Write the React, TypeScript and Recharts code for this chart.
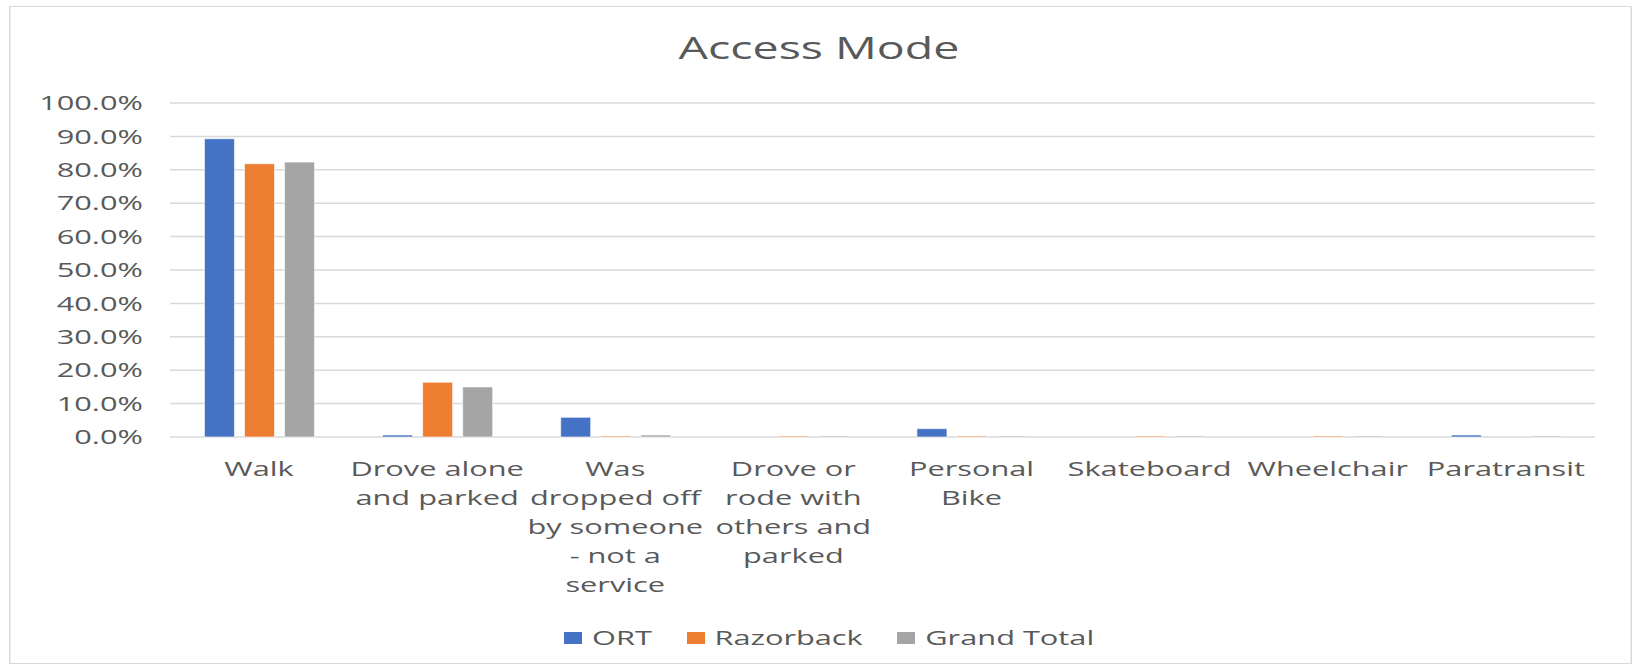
import { BarChart, Bar, XAxis, YAxis, CartesianGrid } from "recharts";

// the source picture is stretched sideways, so the chart is drawn narrow and scaled
const STRETCH = 1.5;
const W = 1638 / STRETCH;
const H = 671;
const TEXT = "#595959";
const FONT = "'Open Sans', 'Noto Sans', sans-serif";

const categories = [
  "Walk",
  "Drove alone\nand parked",
  "Was\ndropped off\nby someone\n- not a\nservice",
  "Drove or\nrode with\nothers and\nparked",
  "Personal\nBike",
  "Skateboard",
  "Wheelchair",
  "Paratransit",
];
const ortValues = [89.3, 0.6, 5.9, 0, 2.5, 0, 0, 0.6];
const razorbackValues = [81.8, 16.4, 0.3, 0.3, 0.3, 0.3, 0.3, 0];
const grandTotalValues = [82.3, 15.0, 0.6, 0.3, 0.3, 0.3, 0.3, 0.3];
const yTicks = [0, 10, 20, 30, 40, 50, 60, 70, 80, 90, 100];

const seriesKeys = ["ort", "razorback", "grandTotal"];
const seriesNames = ["ORT", "Razorback", "Grand Total"];
const seriesColors = ["#4472C4", "#ED7D31", "#A5A5A5"];

const data = categories.map((category, i) => ({
  category,
  ort: ortValues[i],
  razorback: razorbackValues[i],
  grandTotal: grandTotalValues[i],
}));

const CategoryTick = ({ x, y, payload }: any) => {
  const lines = String(payload.value).split("\n");
  return (
    <text x={x} y={y} textAnchor="middle" fill={TEXT} fontSize={20.5} fontFamily={FONT}>
      {lines.map((line, i) => (
        <tspan key={i} x={x} dy={i === 0 ? 31 : 29}>
          {line}
        </tspan>
      ))}
    </text>
  );
};

export default function App() {
  return (
    <div
      style={{
        position: "absolute",
        left: 0,
        top: 0,
        width: W,
        height: H,
        transform: `scaleX(${STRETCH})`,
        transformOrigin: "0 0",
        fontFamily: FONT,
        background: "#fff",
      }}
    >
      <div
        style={{
          position: "absolute",
          left: 5.6,
          top: 6,
          width: 1082,
          height: 658,
          border: "1px solid #d9d9d9",
          boxSizing: "border-box",
        }}
      />
      <div
        style={{
          position: "absolute",
          left: 0,
          top: 27,
          width: W,
          textAlign: "center",
          fontSize: 31,
          color: TEXT,
          lineHeight: "40px",
        }}
      >
        Access Mode
      </div>
      <BarChart
        width={W}
        height={H}
        data={data}
        margin={{ top: 103, right: 28.7, bottom: 0, left: 0 }}
        barSize={20}
        barGap={6.7}
        style={{ position: "absolute", left: 0, top: 0 }}
      >
        <CartesianGrid vertical={false} stroke="#d9d9d9" strokeWidth={1.5} />
        <XAxis
          dataKey="category"
          axisLine={false}
          tickLine={false}
          height={234}
          interval={0}
          tick={<CategoryTick />}
        />
        <YAxis
          domain={[0, 100]}
          ticks={yTicks}
          width={113.3}
          axisLine={false}
          tickLine={false}
          tickMargin={12}
          tick={{ fill: TEXT, fontSize: 20.5, fontFamily: FONT }}
          tickFormatter={(v: number) => `${v.toFixed(1)}%`}
        />
        {seriesKeys.map((key, i) => (
          <Bar
            key={key}
            dataKey={key}
            name={seriesNames[i]}
            fill={seriesColors[i]}
            stroke="#ffffff"
            strokeWidth={0.5}
            isAnimationActive={false}
          />
        ))}
      </BarChart>
      <div
        style={{
          position: "absolute",
          left: 376,
          top: 622,
          display: "flex",
          alignItems: "center",
          fontSize: 20.5,
          color: TEXT,
          lineHeight: "30px",
          whiteSpace: "nowrap",
        }}
      >
        {seriesNames.map((name, i) => (
          <div key={name} style={{ display: "flex", alignItems: "center", marginRight: 23 }}>
            <span
              style={{
                display: "inline-block",
                width: 12,
                height: 12,
                background: seriesColors[i],
                marginRight: 6.7,
                marginTop: 2,
              }}
            />
            <span>{name}</span>
          </div>
        ))}
      </div>
    </div>
  );
}
